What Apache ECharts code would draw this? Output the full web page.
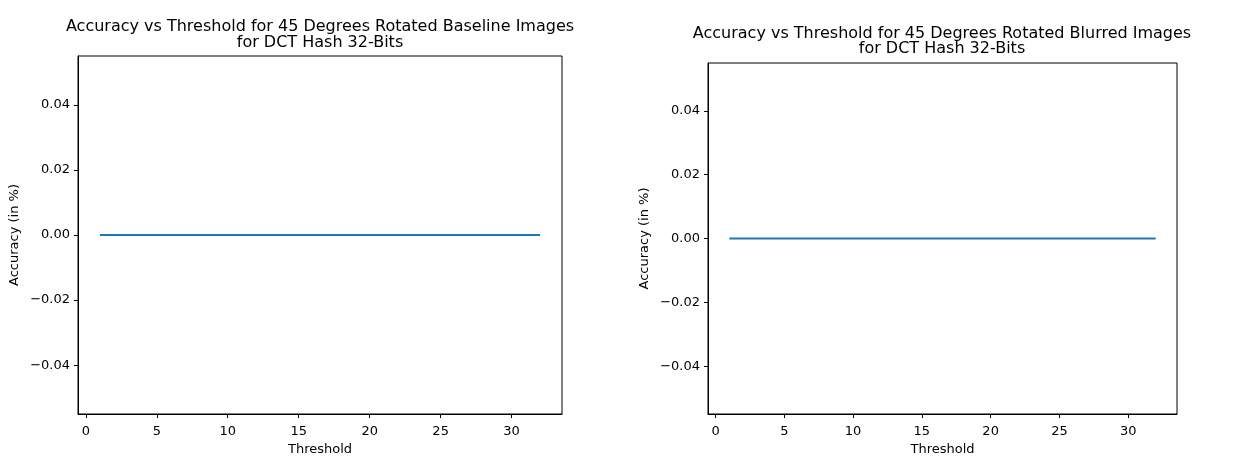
<!DOCTYPE html>
<html>
<head>
<meta charset="utf-8">
<script src="https://cdn.jsdelivr.net/npm/echarts@6/dist/echarts.min.js"></script>
<style>
html,body{margin:0;padding:0;background:#fff;}
#chart{width:1238px;height:466px;}
</style>
</head>
<body>
<div id="chart"></div>
<script>
// Data
var thresholds = [1,2,3,4,5,6,7,8,9,10,11,12,13,14,15,16,17,18,19,20,21,22,23,24,25,26,27,28,29,30,31,32];
var baselineAccuracy = [0,0,0,0,0,0,0,0,0,0,0,0,0,0,0,0,0,0,0,0,0,0,0,0,0,0,0,0,0,0,0,0];
var blurredAccuracy = [0,0,0,0,0,0,0,0,0,0,0,0,0,0,0,0,0,0,0,0,0,0,0,0,0,0,0,0,0,0,0,0];
var xTicks = [0,5,10,15,20,25,30];
var yTicks = [-0.04,-0.02,0.00,0.02,0.04];
var titles = [
  'Accuracy vs Threshold for 45 Degrees Rotated Baseline Images\nfor DCT Hash 32-Bits',
  'Accuracy vs Threshold for 45 Degrees Rotated Blurred Images\nfor DCT Hash 32-Bits'
];
var xLabel = 'Threshold';
var yLabel = 'Accuracy (in %)';

var FONT = 'DejaVu Sans';
function pairs(xs, ys){ return xs.map(function(x,i){ return [x, ys[i]]; }); }
function yFmt(v){
  var r = Math.round(v*100)/100;
  var s = Math.abs(r).toFixed(2);
  return r < 0 ? '\u2212' + s : s;
}
function xAxisCfg(idx){
  return {
    type:'value', gridIndex:idx, min:-0.55, max:33.55,
    name:xLabel, nameLocation:'middle', nameGap:29,
    nameTextStyle:{color:'#000', fontSize:13, fontFamily:FONT},
    axisLine:{show:true, onZero:false, lineStyle:{color:'#000', width:1}},
    axisTick:{show:true, length:4, lineStyle:{color:'#000'}, customValues:xTicks},
    axisLabel:{color:'#000', fontSize:13, fontFamily:FONT, margin:11, customValues:xTicks,
      formatter:function(v){ return String(v); }},
    splitLine:{show:false}
  };
}
function yAxisCfg(idx){
  return {
    type:'value', gridIndex:idx, min:-0.055, max:0.055,
    name:yLabel, nameLocation:'middle', nameGap:57,
    nameTextStyle:{color:'#000', fontSize:13, fontFamily:FONT},
    axisLine:{show:true, onZero:false, lineStyle:{color:'#000', width:1}},
    axisTick:{show:true, length:4, lineStyle:{color:'#000'}, customValues:yTicks},
    axisLabel:{color:'#000', fontSize:13, fontFamily:FONT, margin:8, customValues:yTicks, formatter:yFmt},
    splitLine:{show:false}
  };
}

var chart = echarts.init(document.getElementById('chart'), null, {renderer:'canvas'});
chart.setOption({
  backgroundColor:'#fff',
  animation:false,
  title:[
    {text:titles[0], left:320, top:18.5, textAlign:'center', padding:0,
     textStyle:{color:'#000', fontSize:16, fontWeight:'normal', fontFamily:FONT, lineHeight:16}},
    {text:titles[1], left:942, top:26, textAlign:'center', padding:0,
     textStyle:{color:'#000', fontSize:16, fontWeight:'normal', fontFamily:FONT, lineHeight:15.5}}
  ],
  grid:[
    {left:78, top:56, width:484, height:358, show:true, borderColor:'#000', borderWidth:1, backgroundColor:'#fff', containLabel:false},
    {left:708, top:63, width:469, height:351, show:true, borderColor:'#000', borderWidth:1, backgroundColor:'#fff', containLabel:false}
  ],
  xAxis:[xAxisCfg(0), xAxisCfg(1)],
  yAxis:[yAxisCfg(0), yAxisCfg(1)],
  series:[
    {type:'line', xAxisIndex:0, yAxisIndex:0, data:pairs(thresholds, baselineAccuracy),
     showSymbol:false, lineStyle:{color:'#1f77b4', width:1.8}, itemStyle:{color:'#1f77b4'}},
    {type:'line', xAxisIndex:1, yAxisIndex:1, data:pairs(thresholds, blurredAccuracy),
     showSymbol:false, lineStyle:{color:'#1f77b4', width:1.8}, itemStyle:{color:'#1f77b4'}}
  ]
});
</script>
</body>
</html>
